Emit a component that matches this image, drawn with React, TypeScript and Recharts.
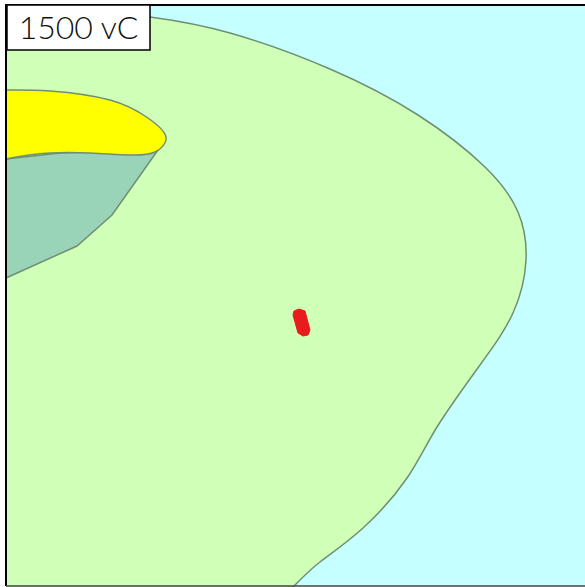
import { ScatterChart, Scatter, XAxis, YAxis, ReferenceArea, ReferenceLine } from 'recharts'

type Pt = [number, number]

const W = 585
const H = 587

// map outlines (x, y from top left)
// first and last points sit off the frame, the white margins hide them
const land: Pt[] = [
  [-60, -10], [60, 6], [150, 17], [230, 33], [330, 69], [418, 115], [485, 167], [518, 212], [526, 260],
  [513, 313], [480, 365], [437, 427], [407, 478], [363, 528], [320, 562], [293, 587], [250, 630], [200, 680],
  [140, 740], [60, 820], [-60, 900],
]

const yellow: Pt[] = [
  [-50, 90], [6, 90], [50, 91], [110, 100], [148, 118], [166, 137], [155, 152], [130, 155], [90, 153],
  [50, 153], [6, 159], [-50, 172],
]

const teal: Pt[] = [[6, 159], [60, 153], [158, 150], [112, 215], [77, 246], [6, 278]]

const redSpot: Pt[] = [
  [299, 309], [305, 311], [310, 330], [308, 335], [303, 336], [298, 333], [293, 315], [294, 311], [299, 309],
]

const sea: Pt[] = [[6, 4], [W, 4], [W, 586], [6, 586], [6, 4]]

const toPts = (a: Pt[]) => a.map(([x, y]) => ({ x, y }))
const NoDot = () => null

const EDGE = '#6F8F72'

export default function App() {
  return (
    <div style={{ position: 'absolute', left: 0, top: 0, width: W, height: H, background: '#fff' }}>
      <ScatterChart width={W} height={H} margin={{ top: 0, right: 0, bottom: 0, left: 0 }}>
        <XAxis type="number" dataKey="x" domain={[0, W]} allowDataOverflow hide />
        <YAxis type="number" dataKey="y" domain={[0, H]} allowDataOverflow reversed hide />

        <Scatter data={toPts(sea)} shape={NoDot} line={{ fill: '#C6FFFF', stroke: 'none' }} isAnimationActive={false} />
        <Scatter
          data={toPts(land)}
          shape={NoDot}
          line={{ fill: '#D0FFB8', stroke: EDGE, strokeWidth: 1.5 }}
          lineJointType="natural"
          isAnimationActive={false}
        />
        <Scatter data={toPts(teal)} shape={NoDot} line={{ fill: '#9AD4B8', stroke: EDGE, strokeWidth: 1.5 }} isAnimationActive={false} />
        <Scatter
          data={toPts(yellow)}
          shape={NoDot}
          line={{ fill: '#FFFF00', stroke: EDGE, strokeWidth: 1.5 }}
          lineJointType="natural"
          isAnimationActive={false}
        />
        <Scatter
          data={toPts(redSpot)}
          shape={NoDot}
          line={{ fill: '#E81C1C', stroke: '#E81C1C', strokeWidth: 1 }}
          isAnimationActive={false}
        />

        {/* white margins outside the frame */}
        <ReferenceArea x1={0} x2={6} y1={0} y2={H} fill="#fff" fillOpacity={1} stroke="none" zIndex={850} />
        <ReferenceArea x1={0} x2={W} y1={0} y2={4} fill="#fff" fillOpacity={1} stroke="none" zIndex={850} />

        <ReferenceLine segment={[{ x: 6, y: 4 }, { x: 6, y: 586 }]} stroke="#000" strokeWidth={2} zIndex={900} />
        <ReferenceLine segment={[{ x: 6, y: 5 }, { x: W, y: 5 }]} stroke="#000" strokeWidth={2} zIndex={900} />
        <ReferenceLine segment={[{ x: 6, y: 586 }, { x: W, y: 586 }]} stroke="#444" strokeWidth={1.5} zIndex={900} />
        <ReferenceArea
          x1={7}
          x2={150}
          y1={5}
          y2={50}
          fill="#fff"
          fillOpacity={1}
          stroke="#000"
          strokeWidth={1.5}
          zIndex={950}
          label={{ value: '1500 vC', position: 'center', fontSize: 32, fontWeight: 300, fill: '#111', fontFamily: 'Lato', zIndex: 960 }}
        />
      </ScatterChart>
    </div>
  )
}
